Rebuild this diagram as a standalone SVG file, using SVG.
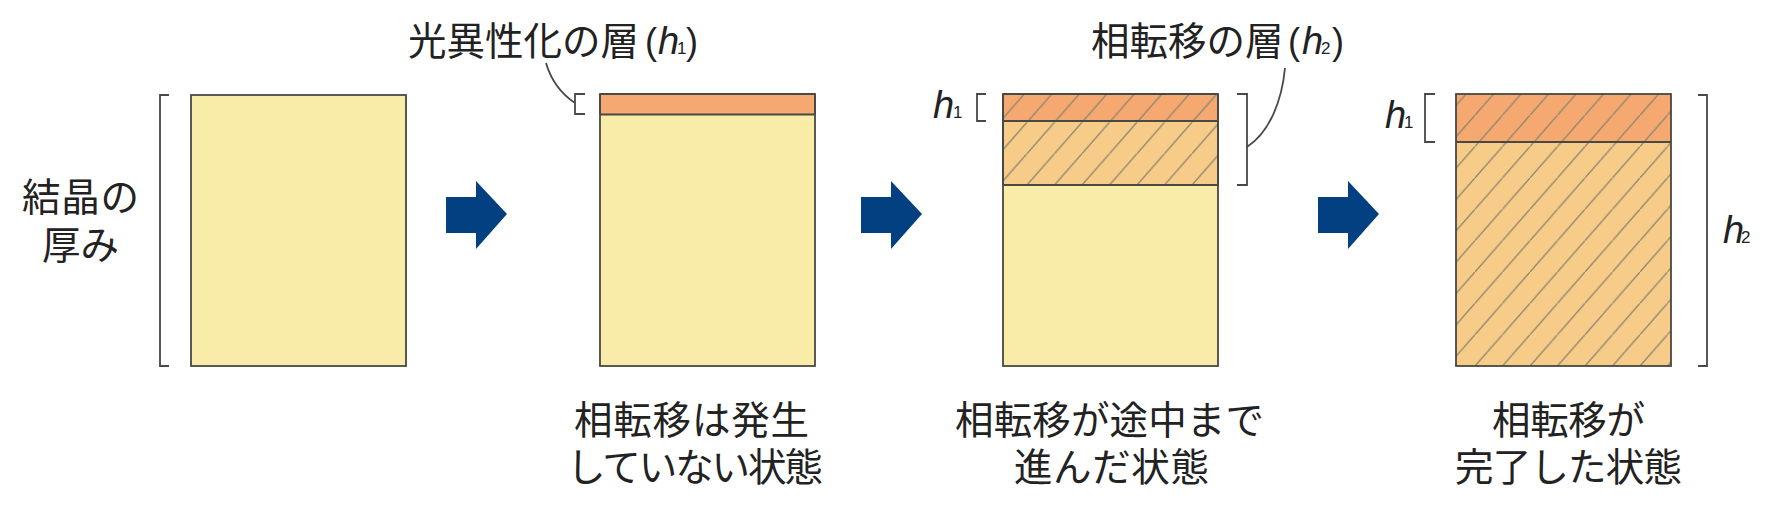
<svg xmlns="http://www.w3.org/2000/svg" width="1792" height="511" viewBox="0 0 1792 511">
<style>
text{font-family:"Noto Sans CJK JP","Noto Sans",sans-serif;font-size:38.5px;fill:#222}
.it{font-family:"Liberation Sans",Arial,sans-serif;font-style:italic;font-size:38px}
.sub{font-family:"Liberation Sans",Arial,sans-serif;font-style:normal;font-size:17px}
.par{font-family:"Liberation Sans",Arial,sans-serif;font-size:36px}
.box{stroke:#484844;stroke-width:1.8;fill:#F9ECA9}
.orange{fill:#F5A970}
.mid{fill:#F6CC88}
.rule{stroke:#484844;stroke-width:2;fill:none}
.br{stroke:#484848;stroke-width:1.8;fill:none}
.arrow{fill:#024082}
</style>
<defs>
<pattern id="hatch3" patternUnits="userSpaceOnUse" x="1027" y="153.65" width="27.5" height="31.35"><path d="M-1,32.49L28.5,-1.14" stroke="#8C8270" stroke-width="1.3" fill="none"/></pattern>
<pattern id="hatch4" patternUnits="userSpaceOnUse" x="1475" y="334.65" width="27.5" height="31.35"><path d="M-1,32.49L28.5,-1.14" stroke="#8C8270" stroke-width="1.3" fill="none"/></pattern>
</defs>
<rect width="1792" height="511" fill="#fff"/>

<g id="panel1">
<rect class="box" x="191" y="95" width="215" height="271"/>
</g>
<g id="panel2">
<rect class="box" x="600" y="94" width="215" height="272"/>
<rect class="orange" x="600" y="94" width="215" height="20"/>
<path class="rule" d="M600,94H815M600,114.500H815M600,94V114M815,94V114"/>
</g>
<g id="panel3">
<rect class="box" x="1003" y="94" width="215" height="272"/>
<rect class="orange" x="1003" y="94" width="215" height="27"/>
<rect class="mid" x="1003" y="121" width="215" height="64"/>
<rect x="1003" y="94" width="215" height="91" fill="url(#hatch3)"/>
<path class="rule" d="M1003,94H1218M1003,121H1218M1003,185H1218M1003,94V185M1218,94V185"/>
</g>
<g id="panel4">
<rect class="mid" x="1456" y="94" width="215" height="272"/>
<rect class="orange" x="1456" y="94" width="215" height="48"/>
<rect x="1456" y="94" width="215" height="272" fill="url(#hatch4)"/>
<rect class="box" style="fill:none" x="1456" y="94" width="215" height="272"/>
<path class="rule" d="M1456,142H1671"/>
</g>

<g id="connectors">
<path class="arrow" d="M446,197H476V181L507,214L476,249V233H446Z"/>
<path class="arrow" d="M861,197H891V181L922,214L891,249V233H861Z"/>
<path class="arrow" d="M1318,197H1348V181L1379,214L1348,249V233H1318Z"/>
<path class="br" d="M169,95H160V366H169"/>
<path class="br" d="M585,94H575V114H585"/>
<path class="br" d="M546,63C551,80 560,93 575,103"/>
<path class="br" d="M986,94H977V121H986"/>
<path class="br" d="M1237,94H1247V185H1237"/>
<path class="br" d="M1285,68C1282,100 1270,132 1247,147"/>
<path class="br" d="M1435,94H1425V142H1435"/>
<path class="br" d="M1698,95H1707V366H1698"/>
</g>

<g id="labels">
<text x="408" y="55">光異性化の層<tspan class="par" x="645" y="54">(</tspan><tspan class="it" x="658" y="54">h</tspan><tspan class="sub" x="677" y="54">1</tspan><tspan class="par" x="686" y="54">)</tspan></text>
<text x="1091" y="55">相転移の層<tspan class="par" x="1288" y="54">(</tspan><tspan class="it" x="1302" y="54">h</tspan><tspan class="sub" x="1321" y="54">2</tspan><tspan class="par" x="1332" y="54">)</tspan></text>
<text x="22" y="211" textLength="117">結晶の</text>
<text x="42" y="259" textLength="77">厚み</text>
<text x="574" y="434" textLength="235">相転移は発生</text>
<text x="567" y="481" textLength="256">していない状態</text>
<text x="955" y="434" textLength="309">相転移が途中まで</text>
<text x="1014" y="481" textLength="195">進んだ状態</text>
<text x="1492" y="434" textLength="153">相転移が</text>
<text x="1455" y="481" textLength="227">完了した状態</text>
<text class="it" x="933" y="118">h<tspan class="sub" x="953">1</tspan></text>
<text class="it" x="1385" y="128">h<tspan class="sub" x="1404">1</tspan></text>
<text class="it" x="1723" y="243">h<tspan class="sub" x="1741">2</tspan></text>
</g>
</svg>
